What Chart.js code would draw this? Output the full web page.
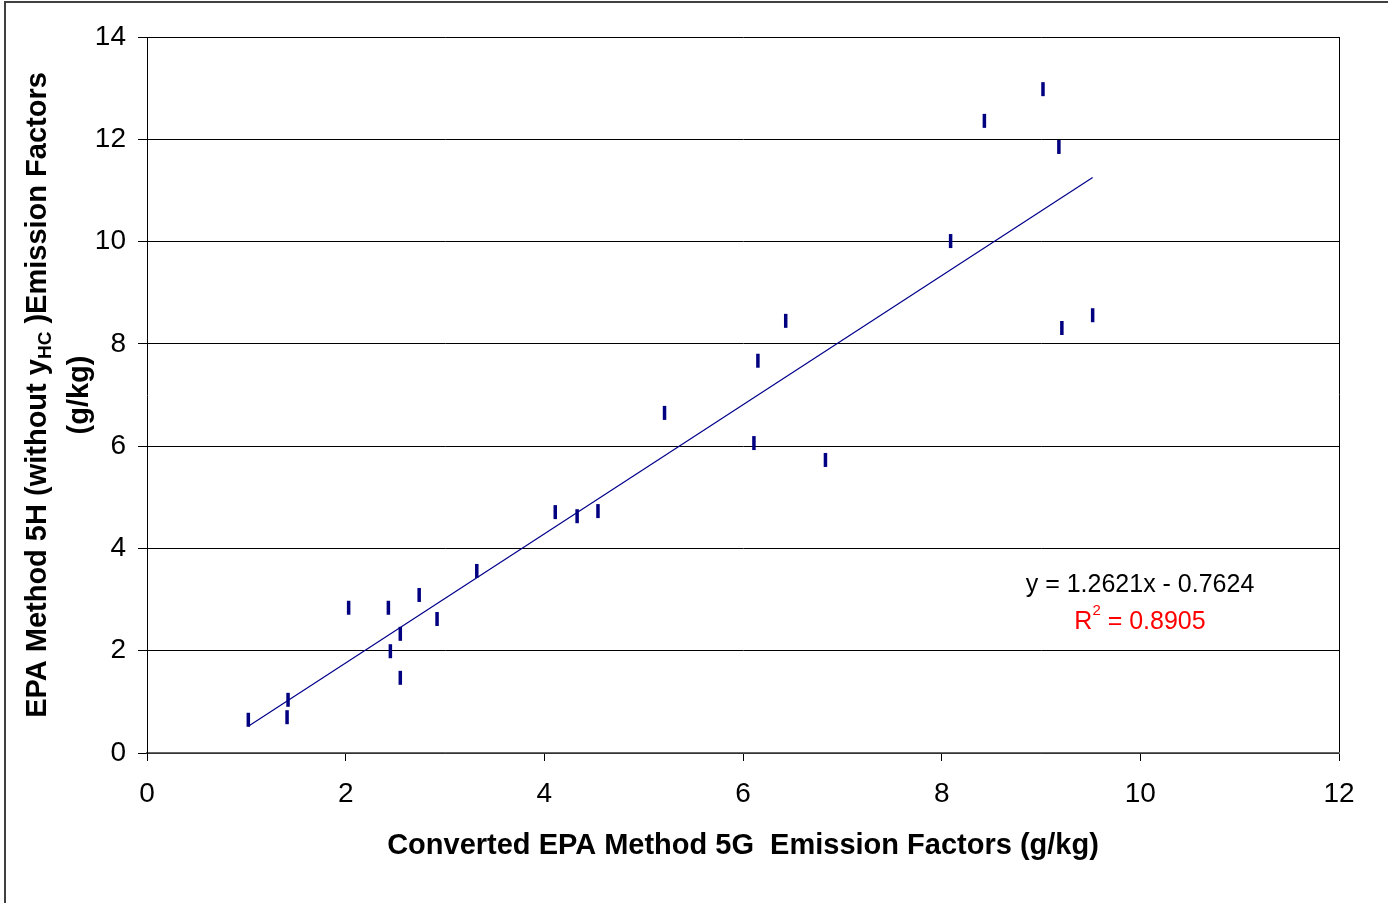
<!DOCTYPE html>
<html>
<head>
<meta charset="utf-8">
<script src="https://cdn.jsdelivr.net/npm/chart.js@4.4.1/dist/chart.umd.min.js"></script>
<style>
  body { margin: 0; background: #fff; }
  canvas { display: block; }
</style>
</head>
<body>
<canvas id="emission-chart" width="1388" height="903"></canvas>
<script>
// method 5G (converted) vs method 5H
const xValues = [1.02, 1.42, 1.41, 2.03, 2.43, 2.45, 2.55, 2.55, 2.74, 2.92, 3.32, 4.11, 4.33, 4.54, 5.21, 6.11, 6.15, 6.43, 6.83, 8.09, 8.43, 9.02, 9.18, 9.21, 9.52];
const yValues = [0.65, 1.04, 0.70, 2.84, 2.84, 1.99, 2.33, 1.47, 3.09, 2.62, 3.56, 4.71, 4.63, 4.73, 6.65, 6.06, 7.67, 8.45, 5.73, 10.01, 12.36, 12.98, 11.85, 8.31, 8.56];

// trendline as printed on the chart
const slope = 1.2621;
const intercept = -0.7624;
const rSquared = 0.8905;

const xTicks = [0, 2, 4, 6, 8, 10, 12];
const yTicks = [0, 2, 4, 6, 8, 10, 12, 14];

const FONT = 'Arial, "Liberation Sans", sans-serif';

const points = xValues.map((x, i) => ({ x: x, y: yValues[i] }));
const xMin = Math.min(...xValues);
const xMax = Math.max(...xValues);
const trend = [
    { x: xMin, y: slope * xMin + intercept },
    { x: xMax, y: slope * xMax + intercept }
];

// outer frame + y title (has a subscript) + equation label
const extras = {
    id: 'extras',
    beforeDraw(chart) {
        const c = chart.ctx;
        c.save();
        c.fillStyle = '#fff';
        c.fillRect(0, 0, chart.width, chart.height);
        c.fillStyle = '#404040';
        c.fillRect(4, 1, chart.width - 4, 2);
        c.fillRect(4, 1, 2, chart.height - 1);
        c.restore();
    },
    afterDraw(chart) {
        const c = chart.ctx;
        const area = chart.chartArea;
        const midY = (area.top + area.bottom) / 2;

        // y axis title, rotated
        c.save();
        c.translate(38, midY);
        c.rotate(-Math.PI / 2);
        c.fillStyle = '#000';
        c.textBaseline = 'middle';
        const big = 'bold 29px ' + FONT;
        const small = 'bold 19px ' + FONT;
        const parts = [
            { t: 'EPA Method 5H (without y', f: big, dy: 0 },
            { t: 'HC', f: small, dy: 8 },
            { t: ' )Emission Factors', f: big, dy: 0 }
        ];
        let total = 0;
        for (const p of parts) { c.font = p.f; p.w = c.measureText(p.t).width; total += p.w; }
        let px = -total / 2;
        c.textAlign = 'left';
        for (const p of parts) { c.font = p.f; c.fillText(p.t, px, p.dy); px += p.w; }
        c.font = big;
        c.textAlign = 'center';
        c.fillText('(g/kg)', 0, 42);
        c.restore();

        // trendline equation
        c.save();
        c.textBaseline = 'middle';
        c.textAlign = 'center';
        c.font = '25px ' + FONT;
        c.fillStyle = '#000';
        const sign = intercept < 0 ? ' - ' : ' + ';
        c.fillText('y = ' + slope.toFixed(4) + 'x' + sign + Math.abs(intercept).toFixed(4), 1140, 585);

        c.fillStyle = '#ff0000';
        const r1 = 'R', r2 = '2', r3 = ' = ' + rSquared.toFixed(4);
        c.font = '25px ' + FONT;
        const w1 = c.measureText(r1).width, w3 = c.measureText(r3).width;
        c.font = '15px ' + FONT;
        const w2 = c.measureText(r2).width;
        let rx = 1140 - (w1 + w2 + w3) / 2;
        c.textAlign = 'left';
        c.font = '25px ' + FONT;
        c.fillText(r1, rx, 622);
        c.font = '15px ' + FONT;
        c.fillText(r2, rx + w1, 611);
        c.font = '25px ' + FONT;
        c.fillText(r3, rx + w1 + w2, 622);
        c.restore();
    }
};

new Chart(document.getElementById('emission-chart'), {
    type: 'scatter',
    data: {
        datasets: [
            {
                label: 'Emission factors',
                data: points,
                pointStyle: 'line',
                rotation: 90,
                radius: 7,
                borderWidth: 3.5,
                borderColor: '#000080',
                backgroundColor: '#000080'
            },
            {
                type: 'line',
                label: 'Linear fit',
                data: trend,
                borderColor: '#00008b',
                borderWidth: 1.2,
                pointRadius: 0,
                fill: false
            }
        ]
    },
    options: {
        responsive: false,
        devicePixelRatio: 1,
        animation: false,
        events: [],
        layout: { padding: { left: 0, top: 37, right: 49, bottom: 0 } },
        plugins: {
            legend: { display: false },
            tooltip: { enabled: false }
        },
        scales: {
            x: {
                type: 'linear',
                min: 0,
                max: 12,
                afterBuildTicks: s => { s.ticks = xTicks.map(v => ({ value: v })); },
                afterFit: s => { s.height = 150; s.paddingLeft = 0; s.paddingRight = 0; },
                ticks: { color: '#000', font: { family: FONT, size: 28 }, padding: 16, maxRotation: 0 },
                grid: {
                    drawOnChartArea: true,
                    color: c => (c.tick && c.tick.value === 12 ? '#000' : 'rgba(0,0,0,0)'),
                    tickColor: '#000',
                    tickLength: 8
                },
                border: { color: '#666', width: 1.5 },
                title: {
                    display: true,
                    text: 'Converted EPA Method 5G  Emission Factors (g/kg)',
                    color: '#000',
                    font: { family: FONT, size: 29, weight: 'bold' },
                    padding: { top: 0, bottom: 40 }
                }
            },
            y: {
                type: 'linear',
                min: 0,
                max: 14,
                afterBuildTicks: s => { s.ticks = yTicks.map(v => ({ value: v })); },
                afterFit: s => { s.width = 147; s.paddingTop = 0; s.paddingBottom = 0; },
                ticks: { color: '#000', font: { family: FONT, size: 28 }, padding: 12 },
                grid: { color: '#000', tickColor: '#000', tickLength: 9 },
                border: { color: '#000' }
            }
        }
    },
    plugins: [extras]
});
</script>
</body>
</html>
